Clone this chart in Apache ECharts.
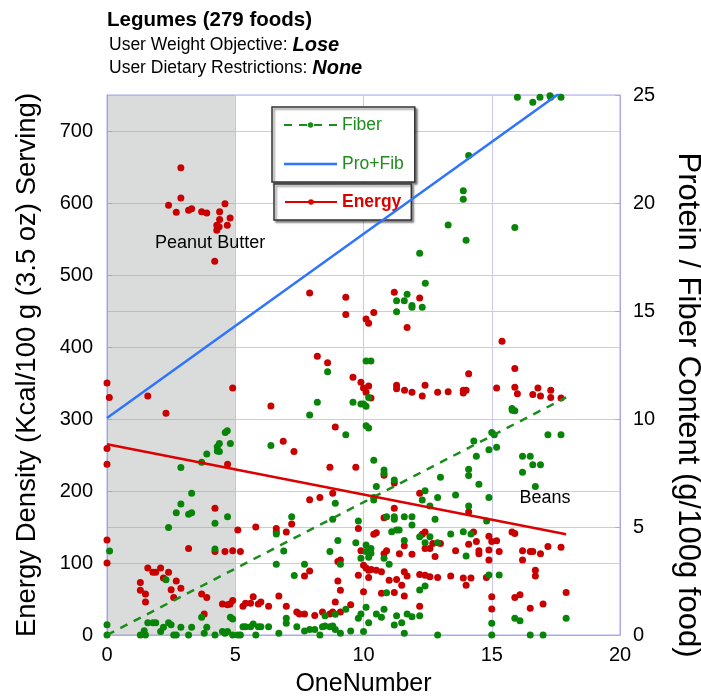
<!DOCTYPE html>
<html>
<head>
<meta charset="utf-8">
<script src="https://cdn.jsdelivr.net/npm/echarts@6/dist/echarts.min.js"></script>
<style>
  html, body { margin: 0; padding: 0; background: #fff; }
  #container { width: 701px; height: 696px; }
</style>
</head>
<body>
<div id="container"></div>
<script>
var dom = document.getElementById('container');
var myChart = echarts.init(dom, null, { renderer: 'canvas' });

// Energy density per food [OneNumber, kcal/100g]
var energyPts = [
  [2.88,649],[2.88,607],[2.40,597],[2.70,587],[3.18,590],[3.30,592],[3.69,588],[3.89,586],[4.39,588],[4.60,599],
  [4.39,577],[4.80,579],[4.28,569],[4.37,567],[4.28,562],[4.69,569],[4.20,519],
  [0,350],[0.09,330],[1.59,332],[2.30,308],[4.90,343],[6.39,318],[6.87,269],[7.29,255],[0,259],[0,237],[4.70,237],
  [7.90,475],[9.31,469],[9.31,445],[11.2,476],[12.19,468],[10.4,448],[10.1,439],[10.2,433],[11.7,427],[15.4,408],
  [8.2,387],[8.6,378],[9.59,358],[9.9,351],[10.0,343],[10.2,346],[10.1,337],[10.29,329],[11.29,347],[11.29,342],
  [11.6,340],[11.89,337],[12.29,332],[12.4,347],[12.89,337],[13.3,338],[13.89,336],[13.89,340],[14.0,340],[14.1,363],
  [15.19,343],[15.9,370],[15.9,344],[16.0,335],[16.6,334],[16.8,343],[16.9,332],[17.3,340],[17.3,330],[17.7,329],
  [8.9,289],[8.69,233],[9.70,233],[10.8,222],
  [4.21,176],[0,132],[0,100],[3.18,120],[4.21,116],[4.6,116],[4.9,117],[5.2,116],[5.1,146],[5.8,150],[6.6,148],
  [6.6,143],[6.99,143],[7.2,154],[1.59,93],[1.79,87],[1.9,87],[2.09,93],[2.4,87],[2.2,79],[2.7,75],[1.3,73],
  [1.3,62],[1.5,57],[1.5,46],[2.5,63],[2.6,52],[2.88,65],[3.69,57],[3.89,52],[3.79,29],[4.5,43],[4.7,42],[4.8,43],
  [4.9,48],[5.3,40],[5.4,44],[5.6,44],[5.9,43],[6.0,46],[6.3,40],[5.7,53],[6.7,54],[6.99,40],[7.4,32],[7.5,29],
  [8.8,197],[7.9,188],[8.3,191],[12.19,197],[11.2,211],[11.2,176],[14.1,171],[10.8,163],[9.8,148],[10.4,140],
  [10.5,142],[12.4,143],[12.29,140],[14.29,143],[14.89,137],[15.0,130],[15.19,131],[15.79,143],[15.9,141],[9.9,117],
  [10.9,117],[10.8,113],[11.4,113],[11.59,124],[11.89,112],[12.4,120],[12.59,120],[12.7,127],[13.0,127],[12.79,109],
  [13.59,117],[14.1,126],[14.4,130],[14.5,117],[14.5,113],[14.89,118],[15.29,116],[14.89,104],[16.2,117],[16.2,104],
  [16.5,116],[16.6,116],[16.9,113],[17.19,123],[17.7,122],[16.7,90],[16.7,82],[9.1,104],[9.0,102],[7.7,82],[7.9,89],
  [10.0,97],[10.1,93],[10.2,90],[10.3,91],[10.5,90],[10.7,88],[10.2,80],[9.8,83],[11.0,76],[11.29,77],[11.49,69],
  [11.59,88],[11.7,82],[12.19,84],[12.4,83],[12.59,81],[12.89,80],[13.4,82],[13.89,79],[14.0,69],[14.19,79],
  [14.79,80],[9.0,75],[9.1,62],[10.0,60],[10.7,58],[11.2,59],[11.59,54],[8.9,46],[9.5,42],[9.1,32],[8.8,32],
  [8.69,29],[8.4,32],[8.1,27],[7.7,29],[12.19,40],[15.0,53],[15.0,36],[15.9,52],[16.1,56],[16.5,37],[17.0,43],[17.9,59]
];

// Fiber content per food [OneNumber, g/100g]
var fiberPts = [
  [16.0,24.9],[16.6,24.66],[16.88,24.9],[17.27,24.97],[17.3,24.9],[17.7,24.9],[14.1,22.2],[13.89,20.57],[13.89,20.17],
  [13.3,18.98],[15.9,18.87],[14.0,18.27],[12.19,17.67],[12.41,16.28],
  [4.61,9.37],[4.69,9.46],[4.30,8.72],[4.38,8.87],[4.30,8.52],[4.38,8.49],[4.81,8.87],[3.89,8.38],[3.69,8.0],
  [2.88,7.76],[6.39,8.77],
  [11.29,15.48],[11.59,15.48],[11.7,15.77],[11.89,15.26],[11.89,15.17],[12.29,15.17],[11.29,14.97],[10.1,12.69],
  [10.29,12.69],[8.6,12.19],[8.2,10.77],[9.59,10.77],[9.9,10.69],[10.0,10.69],[10.1,10.59],[10.2,11.0],[7.9,10.19],
  [15.79,10.49],[15.9,10.38],[15.8,10.4],[10.1,9.69],[10.2,9.58],[9.31,9.27],[15.0,9.37],[15.1,9.27],[17.19,9.27],
  [17.7,9.27],[14.3,8.98],[14.4,8.27],[14.89,8.58],[15.19,8.69],[16.2,8.27],[16.5,8.27],[16.6,7.88],[16.9,7.88],
  [10.4,8.09],[13.0,7.30],[14.1,7.67],[14.1,7.38],
  [3.3,6.56],[2.88,6.06],[2.7,5.66],[3.18,5.59],[3.3,5.66],[4.7,5.48],[4.21,5.17],[2.4,4.98],[0.1,3.89],[4.21,3.98],
  [2.3,2.56],[7.2,5.48],[6.6,4.68],[6.89,3.89],[6.6,3.27],[7.3,2.76],[3.69,0.82],[4.81,0.82],[4.9,0.74],[0,0.48],
  [1.59,0.57],[1.79,0.57],[1.9,0.57],[2.4,0.57],[2.5,0.48],[2.2,0.36],[2.09,0.16],[2.88,0.36],[3.3,0.36],[3.89,0.36],
  [3.79,0.08],[0,0],[1.3,0],[1.5,0],[1.45,0.2],[2.7,0],[2.6,0],[3.18,0],[4.21,0],[4.5,0.16],[4.7,0.16],[4.6,0.08],
  [4.9,0],[5.2,0],[5.1,0],[5.3,0.38],[5.4,0.38],[5.7,0.51],[5.6,0.38],[5.9,0.38],[6.0,0.38],[6.3,0.38],[5.8,0],
  [6.7,0.08],[6.99,0.77],[6.99,0.54],[7.4,0.38],
  [10.8,7.49],[10.8,7.64],[11.2,7.18],[10.5,6.87],[12.4,6.68],[12.29,6.25],[12.59,5.97],[12.89,6.36],[13.59,6.48],
  [14.5,6.98],[14.89,6.36],[14.1,5.97],[16.7,6.87],[16.2,7.53],[10.4,6.37],[10.4,6.25],[8.9,6.10],[8.8,5.36],
  [9.8,5.28],[10.9,5.48],[11.2,5.48],[11.2,5.36],[11.59,5.48],[11.89,5.48],[11.89,5.09],[12.79,5.36],[14.8,5.28],
  [11.1,4.78],[11.29,4.86],[11.39,4.86],[12.19,4.55],[12.59,4.55],[12.4,4.27],[12.89,4.27],[13.4,4.68],[13.89,4.78],
  [14.19,4.68],[9.0,4.37],[9.7,4.27],[11.59,4.37],[10.1,4.17],[10.29,4.01],[10.1,3.86],[10.29,3.78],[9.9,3.55],
  [10.2,3.60],[8.69,3.86],[10.8,3.55],[11.0,3.27],[7.7,3.27],[9.1,3.27],[14.0,3.66],[14.89,2.78],[15.29,2.78],
  [12.4,2.27],[12.19,2.08],[10.9,1.96],[10.1,1.28],[9.9,0.97],[9.8,0.77],[9.31,1.19],[8.9,0.96],[8.5,0.89],
  [10.5,0.97],[10.7,0.82],[10.8,1.19],[10.2,0.57],[11.29,0.89],[11.7,0.97],[11.89,0.85],[12.19,0.89],[11.2,0.46],
  [11.49,0.57],[11.59,0.08],[10.0,0.16],[9.5,0.19],[9.1,0.08],[8.9,0.26],[8.8,0.42],[8.69,0.38],[8.5,0.42],
  [8.4,0.38],[8.1,0.26],[7.9,0.26],[7.7,0.19],[8.3,0],[12.89,0],[15.0,0.54],[15.0,0],[15.9,0.77],[16.1,0.66],
  [16.5,0],[17.0,0],[17.9,0.77]
];

// trend lines (end points)
var energyTrend = [[0,265],[17.9,140]];
var fiberTrend = [[0,0],[17.9,11.0]];
var proFibTrend = [[0,10.05],[17.9,25.3]];

// labelled food groups
var notes = [
  { name: 'Peanut Butter', value: [4.02,545] },
  { name: 'Beans', value: [17.08,190] }
];

var shadeRange = [0, 5];

var gridColor = '#c9c9f2';
var axisColor = '#a9a9ec';
var fiberColor = '#088508';
var energyColor = '#c80000';
var font = 'Arial, "Liberation Sans", sans-serif';

var option = {
    backgroundColor: '#fff',
    animation: false,
    textStyle: { fontFamily: font },
    title: [
        {
            text: 'Legumes (279 foods)',
            left: 107, top: 10, padding: 0,
            textStyle: { fontSize: 20.5, fontWeight: 'bold', color: '#000', fontFamily: font }
        },
        {
            text: '{a|User Weight Objective: }{b|Lose}',
            left: 109, top: 35, padding: 0,
            textStyle: {
                rich: {
                    a: { fontSize: 17.5, fontWeight: 'normal', color: '#000', fontFamily: font },
                    b: { fontSize: 20, fontWeight: 'bold', fontStyle: 'italic', color: '#000', fontFamily: font }
                }
            }
        },
        {
            text: '{a|User Dietary Restrictions: }{b|None}',
            left: 109, top: 58, padding: 0,
            textStyle: {
                rich: {
                    a: { fontSize: 17.5, fontWeight: 'normal', color: '#000', fontFamily: font },
                    b: { fontSize: 20, fontWeight: 'bold', fontStyle: 'italic', color: '#000', fontFamily: font }
                }
            }
        }
    ],
    legend: [
        {
            data: [
                { name: 'Fiber' },
                { name: 'Pro+Fib', icon: 'path://M0,0 L100,0 L100,5 L0,5 Z' }
            ],
            orient: 'vertical',
            left: 272, top: 107,
            padding: [9, 11, 9, 11],
            itemWidth: 53, itemHeight: 7, itemGap: 21,
            selectedMode: false,
            backgroundColor: '#fff',
            borderColor: '#333', borderWidth: 1.5,
            shadowColor: 'rgba(0,0,0,0.45)', shadowBlur: 2, shadowOffsetX: 2, shadowOffsetY: 2,
            textStyle: { color: '#1f8c1f', fontSize: 17.5 }
        },
        {
            data: ['Energy'],
            left: 274, top: 184,
            padding: [9, 10, 9, 10],
            itemWidth: 52, itemHeight: 7,
            selectedMode: false,
            backgroundColor: '#fff',
            borderColor: '#333', borderWidth: 1.5,
            shadowColor: 'rgba(0,0,0,0.45)', shadowBlur: 2, shadowOffsetX: 2, shadowOffsetY: 2,
            textStyle: { color: '#dd0000', fontSize: 17.5, fontWeight: 'bold' }
        }
    ],
    grid: {
        left: 107, right: 81, top: 95, bottom: 61,
        outerBoundsMode: 'none',
        show: true, borderColor: axisColor, borderWidth: 1, backgroundColor: '#fff'
    },
    xAxis: {
        type: 'value', min: 0, max: 20, interval: 5,
        name: 'OneNumber', nameLocation: 'middle', nameGap: 37,
        nameTextStyle: { fontSize: 25, color: '#000' },
        axisLine: { lineStyle: { color: axisColor } },
        axisTick: { show: false },
        axisLabel: { fontSize: 20, color: '#000', margin: 10 },
        splitLine: { lineStyle: { color: gridColor } }
    },
    yAxis: [
        {
            type: 'value', min: 0, max: 750, interval: 100,
            name: 'Energy Density (Kcal/100 g (3.5 oz) Serving)', nameLocation: 'middle', nameGap: 66,
            nameTextStyle: { fontSize: 27.5, color: '#000' },
            axisLine: { show: true, lineStyle: { color: axisColor } },
            axisTick: { show: true, inside: true, length: 5, lineStyle: { color: axisColor } },
            axisLabel: { fontSize: 20, color: '#000', margin: 14, showMaxLabel: false },
            splitLine: { lineStyle: { color: gridColor } }
        },
        {
            type: 'value', min: 0, max: 25, interval: 5, position: 'right',
            name: 'Protein / Fiber Content (g/100g food)', nameLocation: 'middle', nameGap: 52,
            nameRotate: -90,
            nameTextStyle: { fontSize: 31, color: '#000', padding: [0, 0, 0, 80] },
            axisLine: { show: true, lineStyle: { color: axisColor } },
            axisTick: { show: true, inside: true, length: 5, lineStyle: { color: axisColor } },
            axisLabel: { fontSize: 20, color: '#000', margin: 13 },
            splitLine: { show: true, lineStyle: { color: gridColor } }
        }
    ],
    series: [
        {
            name: 'band',
            type: 'scatter',
            data: [],
            markArea: {
                silent: true,
                itemStyle: { color: 'rgba(150,154,154,0.35)' },
                data: [[{ xAxis: shadeRange[0] }, { xAxis: shadeRange[1] }]]
            }
        },
        {
            name: 'energyPts',
            type: 'scatter',
            yAxisIndex: 0,
            symbolSize: 7,
            itemStyle: { color: energyColor, opacity: 1 },
            data: energyPts,
            z: 3
        },
        {
            name: 'fiberPts',
            type: 'scatter',
            yAxisIndex: 1,
            symbolSize: 7,
            itemStyle: { color: fiberColor, opacity: 1 },
            data: fiberPts,
            z: 3
        },
        {
            name: 'Fiber',
            type: 'line',
            yAxisIndex: 1,
            data: fiberTrend,
            showSymbol: false,
            symbol: 'circle',
            itemStyle: { color: '#1a8c1a' },
            lineStyle: { color: '#1a8c1a', width: 2.5, type: [8, 7] },
            z: 4
        },
        {
            name: 'Pro+Fib',
            type: 'line',
            yAxisIndex: 1,
            data: proFibTrend,
            showSymbol: false,
            symbol: 'circle',
            itemStyle: { color: '#2f74ff' },
            lineStyle: { color: '#2f74ff', width: 2.5 },
            z: 4
        },
        {
            name: 'Energy',
            type: 'line',
            yAxisIndex: 0,
            data: energyTrend,
            showSymbol: false,
            symbol: 'circle',
            itemStyle: { color: '#dd0000' },
            lineStyle: { color: '#dd0000', width: 2.5 },
            z: 4
        },
        {
            name: 'notes',
            type: 'scatter',
            yAxisIndex: 0,
            symbolSize: 0,
            itemStyle: { color: '#000', opacity: 1 },
            label: {
                show: true, position: 'inside',
                formatter: '{b}', fontSize: 18, color: '#000'
            },
            data: notes,
            z: 5
        }
    ]
};

myChart.setOption(option);

window.addEventListener('resize', myChart.resize);
</script>
</body>
</html>
